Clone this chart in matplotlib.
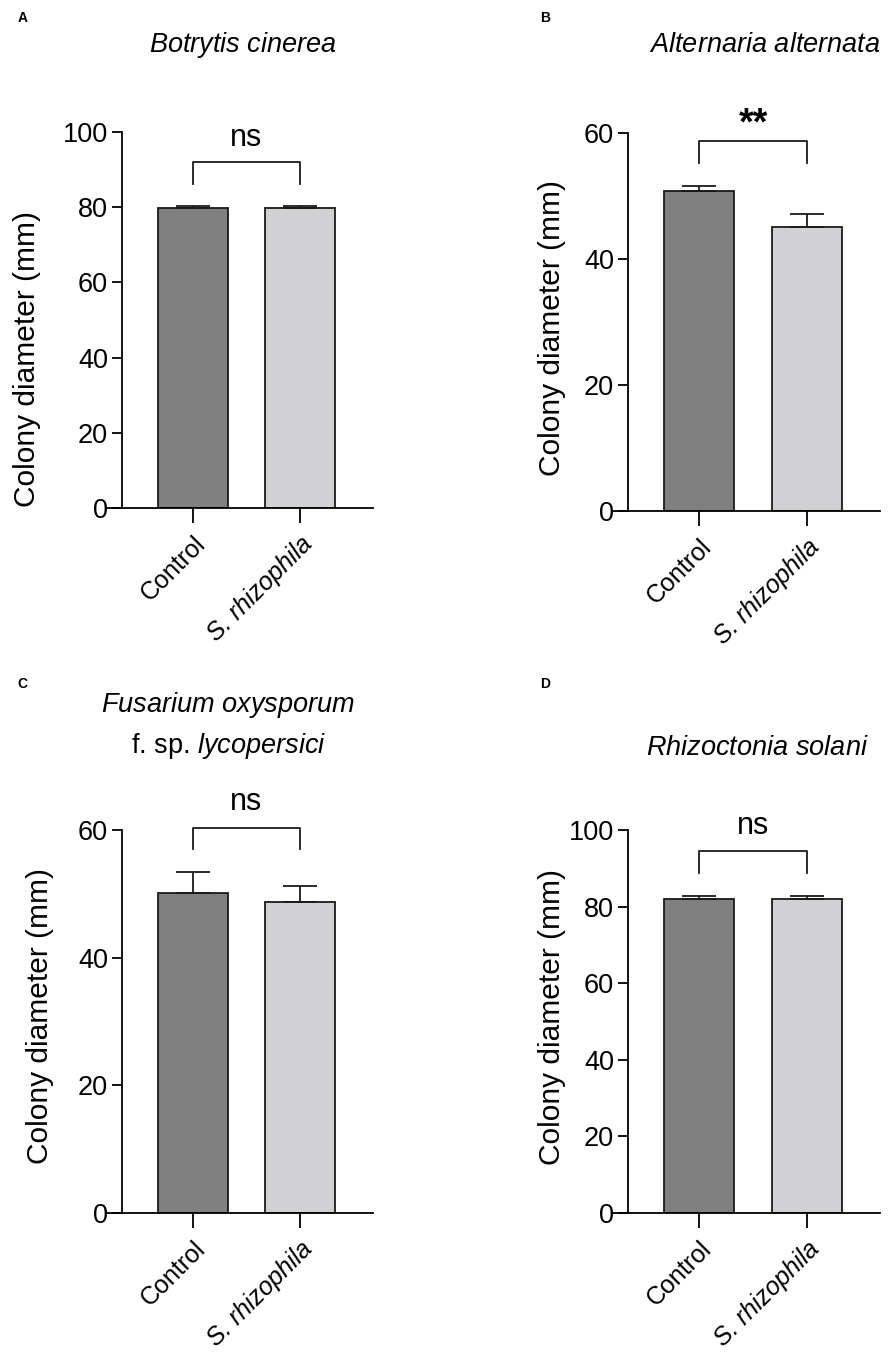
import matplotlib.pyplot as plt

plt.rcParams['font.family'] = ['Liberation Sans', 'DejaVu Sans']
plt.rcParams['mathtext.fontset'] = 'custom'
plt.rcParams['mathtext.rm'] = 'Liberation Sans'
plt.rcParams['mathtext.it'] = 'Liberation Sans:italic'

groups = ['Control', 'S. rhizophila']
colors = ['#808080', '#d1d1d3']

# panel data: means, upper SD
a_mean = [79.8, 79.8]
a_err = [0.5, 0.5]
b_mean = [50.8, 45.1]
b_err = [0.8, 2.0]
c_mean = [50.2, 48.7]
c_err = [3.2, 2.6]
d_mean = [82.0, 82.0]
d_err = [0.8, 0.8]

panels = [
    # letter, title, means, errs, ymax, yticks, sig, bracket top, bracket bottom, text y
    ('A', '$\\it{Botrytis\\ cinerea}$', a_mean, a_err, 100, [0, 20, 40, 60, 80, 100], 'ns', 92, 86.2, 96.3),
    ('B', '$\\it{Alternaria\\ alternata}$', b_mean, b_err, 60, [0, 20, 40, 60], '**', 58.7, 55.2, 59.8),
    ('C', '$\\it{Fusarium\\ oxysporum}$\nf. sp. $\\it{lycopersici}$', c_mean, c_err, 60, [0, 20, 40, 60], 'ns', 60.3, 57.0, 63.1),
    ('D', '$\\it{Rhizoctonia\\ solani}$', d_mean, d_err, 100, [0, 20, 40, 60, 80, 100], 'ns', 94.5, 88.8, 99.0),
]

# axes positions in figure fractions
pos = [
    [0.120, 0.6248, 0.298, 0.2777],
    [0.687, 0.6226, 0.300, 0.2790],
    [0.120, 0.1041, 0.298, 0.2829],
    [0.687, 0.1041, 0.300, 0.2829],
]
letter_pos = [(0.020, 0.987), (0.606, 0.987), (0.020, 0.495), (0.606, 0.495)]
title_pos = [(0.272, 0.967), (0.857, 0.967), (0.256, 0.4645), (0.849, 0.4476)]
ylabel_xy = [(0.030, 0.735), (0.619, 0.758), (0.045, 0.250), (0.619, 0.249)]

fig = plt.figure(figsize=(8.92, 13.54), dpi=100)
lw = 1.3

for i, (letter, title, means, errs, ymax, yticks, sig, btop, bbot, ty) in enumerate(panels):
    ax = fig.add_axes(pos[i])
    x = [0, 1]
    ax.bar(x, means, width=0.65, color=colors, edgecolor='#1a1a1a', linewidth=lw, zorder=2)
    ax.errorbar(x, means, yerr=[[0, 0], errs], fmt='none', ecolor='#1a1a1a',
                elinewidth=lw, capsize=12.5, capthick=lw, zorder=3)
    ax.set_xlim(-0.80, 1.68)
    ax.set_ylim(0, ymax)
    ax.set_yticks(yticks)
    ax.set_xticks(x)
    ax.set_xticklabels(groups, rotation=45, ha='right', rotation_mode='anchor', fontsize=18)
    ax.get_xticklabels()[1].set_style('italic')
    ax.tick_params(axis='y', labelsize=19.5, length=7, width=lw, pad=3)
    ax.tick_params(axis='x', length=11, width=lw, pad=6)
    for s in ['top', 'right']:
        ax.spines[s].set_visible(False)
    ax.spines['left'].set_position(('data', -0.66))
    ax.spines['left'].set_linewidth(lw)
    ax.spines['bottom'].set_linewidth(lw)
    # significance bracket
    ax.plot([0, 0, 1, 1], [bbot, btop, btop, bbot], color='#1a1a1a', lw=lw, clip_on=False)
    if sig == '**':
        ax.text(0.5, ty, sig, ha='center', va='baseline', fontsize=27, fontweight='bold', clip_on=False)
    else:
        ax.text(0.5, ty, sig, ha='center', va='baseline', fontsize=22, clip_on=False)
    fig.text(ylabel_xy[i][0], ylabel_xy[i][1], 'Colony diameter (mm)', rotation=90,
             ha='center', va='center', fontsize=21.5)
    fig.text(letter_pos[i][0], letter_pos[i][1], letter, fontsize=10, fontweight='bold',
             ha='left', va='center')
    fig.text(title_pos[i][0], title_pos[i][1], title, fontsize=19.5, ha='center', va='center',
             linespacing=1.5)

plt.savefig('out.png', dpi=100)
